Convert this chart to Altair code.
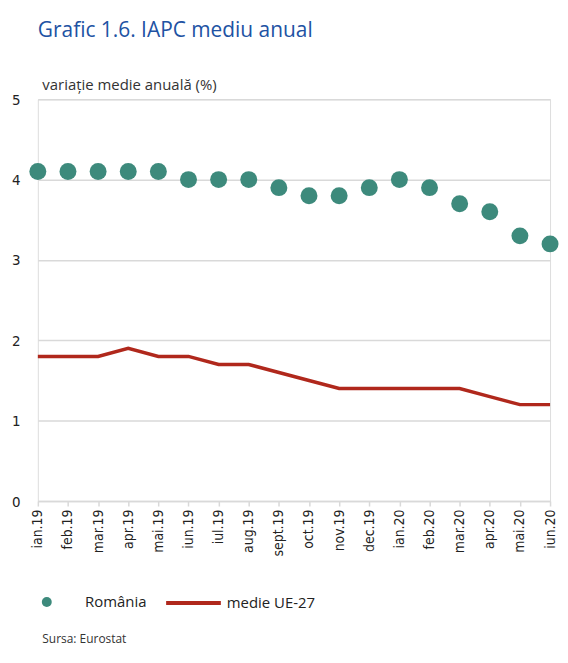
import altair as alt
import pandas as pd

months = ["ian.19", "feb.19", "mar.19", "apr.19", "mai.19", "iun.19", "iul.19", "aug.19",
          "sept.19", "oct.19", "nov.19", "dec.19", "ian.20", "feb.20", "mar.20", "apr.20",
          "mai.20", "iun.20"]
romania = [4.1, 4.1, 4.1, 4.1, 4.1, 4.0, 4.0, 4.0, 3.9, 3.8, 3.8, 3.9, 4.0, 3.9, 3.7, 3.6, 3.3, 3.2]
ue27 = [1.8, 1.8, 1.8, 1.9, 1.8, 1.8, 1.7, 1.7, 1.6, 1.5, 1.4, 1.4, 1.4, 1.4, 1.4, 1.3, 1.2, 1.2]
series_names = ["România", "medie UE-27"]
y_ticks = [0, 1, 2, 3, 4, 5]

TEAL = "#3d8a7c"
RED = "#b0281c"
GRID = "#d9d9d9"
NARROW = "Liberation Sans Narrow, DejaVu Sans Condensed, Arial Narrow, sans-serif"
SANS = "Open Sans, Noto Sans, sans-serif"

df_ro = pd.DataFrame({"luna": months, "val": romania, "serie": series_names[0]})
df_ue = pd.DataFrame({"luna": months, "val": ue27, "serie": series_names[1]})

x_enc = alt.X(
    "luna:N", sort=months,
    scale=alt.Scale(type="point", padding=0),
    axis=alt.Axis(
        title="Sursa: Eurostat", titleFont=SANS, titleFontSize=12, titleFontWeight="normal",
        titleColor="#333333", titleAnchor="start", titleAlign="left", titleBaseline="top",
        titleX=4, titleY=133,
        labelAngle=-90, labelFont=NARROW, labelFontSize=14, labelColor="#222222",
        labelPadding=3, domainColor=GRID, domainWidth=1.5, tickColor=GRID, tickWidth=1.5,
        tickSize=5, grid=False,
    ),
)
y_enc = alt.Y(
    "val:Q",
    scale=alt.Scale(domain=[0, 5], nice=False, zero=True),
    axis=alt.Axis(
        values=y_ticks, title="variație medie anuală (%)", titleAngle=0, titleAlign="left",
        titleBaseline="middle", titleX=4, titleY=-15, titleFont=SANS, titleFontSize=15,
        titleFontWeight="normal", titleColor="#333333",
        labelFont=NARROW, labelFontSize=15, labelColor="#222222", labelPadding=18,
        domain=False, ticks=False, grid=True, gridColor=GRID, gridWidth=1.5,
    ),
)

points = alt.Chart(df_ro).mark_circle(size=290, opacity=1).encode(
    x=x_enc, y=y_enc,
    fill=alt.Fill(
        "serie:N", scale=alt.Scale(domain=[series_names[0]], range=[TEAL]),
        legend=alt.Legend(
            title=None, orient="none", legendX=1.5, legendY=498, padding=0,
            symbolType="circle", symbolSize=100, symbolStrokeWidth=0, labelOffset=31,
            labelFont=SANS, labelFontSize=15, labelColor="#222222",
        ),
    ),
)

line = alt.Chart(df_ue).mark_line(strokeWidth=3.5).encode(
    x=x_enc, y=y_enc,
    stroke=alt.Stroke(
        "serie:N", scale=alt.Scale(domain=[series_names[1]], range=[RED]),
        legend=alt.Legend(
            title=None, orient="none", legendX=127, legendY=477, padding=0,
            symbolType="stroke", symbolSize=3025, symbolStrokeWidth=4, labelOffset=4,
            labelFont=SANS, labelFontSize=15, labelColor="#222222",
        ),
    ),
)

chart = alt.layer(line, points).properties(
    width=515, height=404,
    title=alt.Title(
        "Grafic 1.6. IAPC mediu anual", anchor="start", frame="group", offset=37,
        font=SANS, fontSize=21, fontWeight="normal", color="#2152a3",
    ),
    autosize=alt.AutoSizeParams(type="none"),
    padding={"left": 30, "top": 90, "right": 10, "bottom": 148},
).configure_view(stroke=None).configure(background="white")

chart.save("out.html", embed_options={"renderer": "svg", "actions": False})
